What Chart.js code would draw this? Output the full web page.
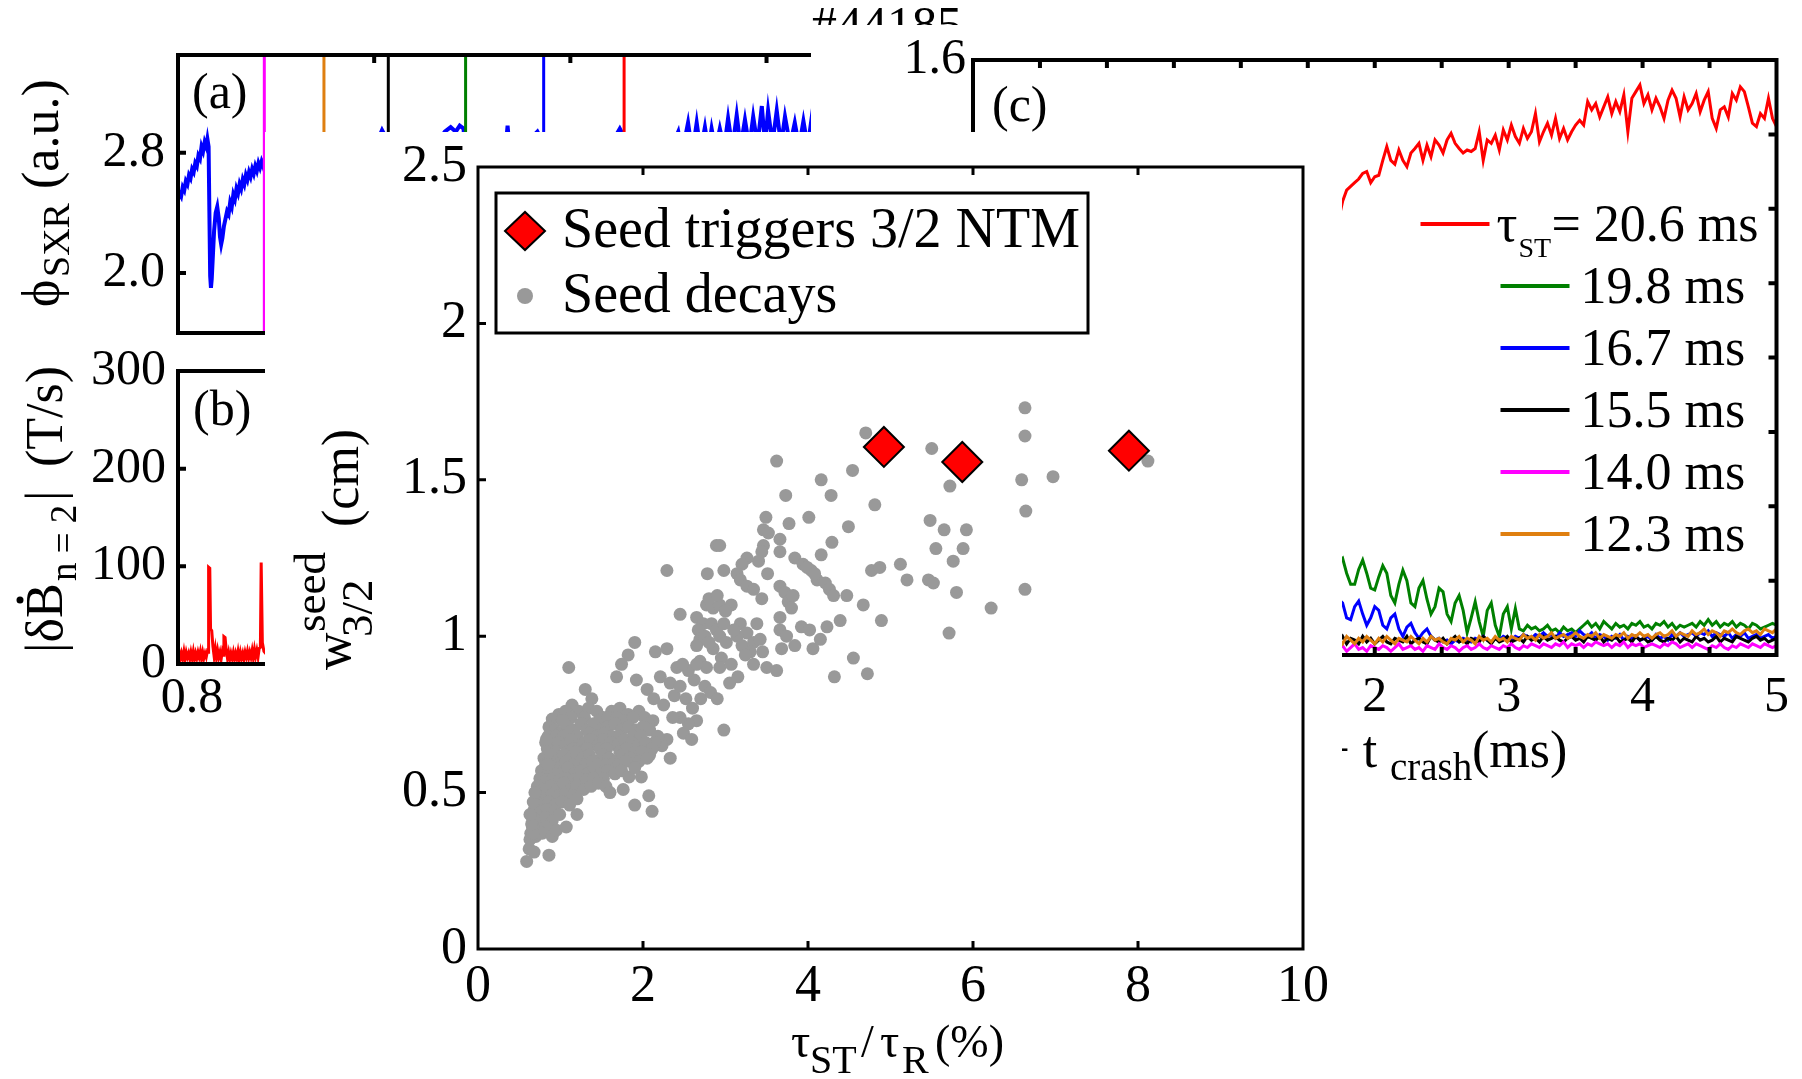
<!DOCTYPE html>
<html lang="en">
<head>
<meta charset="utf-8">
<title>#44185 seed island width vs sawtooth period</title>
<script src="https://cdn.jsdelivr.net/npm/chart.js@4.4.1/dist/chart.umd.min.js"></script>
<style>
  html, body { margin: 0; padding: 0; background: #fff; }
  #fig { position: relative; width: 1802px; height: 1079px; overflow: hidden; background: #fff; }
  #fig canvas { position: absolute; left: 0; top: 0; }
</style>
</head>
<body>
<div id="fig">
  <canvas id="sxr" width="1802" height="1079"></canvas>
  <canvas id="mirnov" width="1802" height="1079"></canvas>
  <canvas id="island" width="1802" height="1079"></canvas>
  <canvas id="seed" width="1802" height="1079"></canvas>
</div>
<script>
const SERIF = '"Liberation Serif", "Times New Roman", serif';
Chart.defaults.font.family = SERIF;
Chart.defaults.color = '#000';

// ---- (a) SXR phase, shot #44185 : [t (s), phase (a.u.)]
const sxrTrace = [
  [0.8000,2.49],[0.8004,2.53],[0.8008,2.51],[0.8012,2.57],[0.8016,2.55],[0.8020,2.61],[0.8024,2.59],[0.8028,2.65],
  [0.8032,2.63],[0.8036,2.69],[0.8040,2.67],[0.8044,2.73],[0.8048,2.71],[0.8052,2.78],[0.8056,2.76],[0.8060,2.84],
  [0.8064,2.81],[0.8068,2.87],[0.8072,2.84],[0.8075,2.89],[0.8078,2.84],[0.8080,2.40],[0.8082,1.98],[0.8084,1.90],
  [0.8086,1.96],[0.8089,2.12],[0.8092,2.28],[0.8096,2.40],[0.8100,2.44],[0.8104,2.36],[0.8107,2.24],[0.8110,2.19],
  [0.8113,2.23],[0.8117,2.31],[0.8121,2.36],[0.8125,2.41],[0.8129,2.39],[0.8133,2.47],[0.8137,2.44],[0.8141,2.52],
  [0.8145,2.49],[0.8149,2.56],[0.8153,2.53],[0.8157,2.59],[0.8161,2.56],[0.8165,2.62],[0.8169,2.59],[0.8173,2.65],
  [0.8177,2.62],[0.8181,2.67],[0.8185,2.64],[0.8189,2.69],[0.8193,2.66],[0.8197,2.71],[0.8201,2.68],[0.8205,2.73],
  [0.8209,2.70],[0.8213,2.74],[0.8217,2.71],[0.8221,2.76],[0.8226,2.73],[0.8235,2.10],[0.8260,2.22],[0.8300,2.45],
  [0.8340,2.62],[0.8368,2.72],[0.8376,2.15],[0.8420,2.45],[0.8470,2.70],[0.8505,2.86],[0.8520,2.95],[0.8528,2.91],
  [0.8538,2.12],[0.8580,2.45],[0.8630,2.70],[0.8665,2.88],[0.8680,2.94],[0.8695,2.97],[0.8708,2.94],[0.8718,2.98],
  [0.8728,2.96],[0.8736,2.18],[0.8780,2.50],[0.8820,2.74],[0.8836,2.86],[0.8840,2.98],[0.8844,2.86],[0.8880,2.88],
  [0.8905,2.91],[0.8916,2.94],[0.8924,2.90],[0.8936,2.20],[0.8980,2.50],[0.9030,2.74],[0.9080,2.87],[0.9115,2.91],
  [0.9126,2.96],[0.9132,2.93],[0.9140,2.24],[0.9180,2.55],[0.9230,2.76],[0.9262,2.86],[0.9275,2.94],[0.9285,2.80],
  [0.9300,3.00],[0.9311,2.80],[0.9322,3.00],[0.9332,2.81],[0.9343,2.97],[0.9352,2.82],[0.9360,2.96],[0.9370,2.82],
  [0.9381,2.96],[0.9392,2.83],[0.9402,3.03],[0.9413,2.83],[0.9424,3.05],[0.9434,2.84],[0.9445,3.02],[0.9456,2.84],
  [0.9466,3.04],[0.9477,2.85],[0.9488,3.11],[0.9496,2.86],[0.9504,3.08],[0.9515,2.86],[0.9526,3.08],[0.9537,2.85],
  [0.9547,3.04],[0.9560,2.85],[0.9572,3.00],[0.9583,2.84],[0.9594,3.01],[0.9605,2.84],[0.9615,3.03],[0.9626,2.84],
  [0.9640,3.00],[0.9660,2.85],[0.9680,3.01],[0.9700,2.85]
];
// sawtooth crashes marked in (a), coloured as in (c)
const crashTimes = [0.8220, 0.8372, 0.8536, 0.8733, 0.8932, 0.9137];
const crashColors = ['#ff00ff', '#df7f10', '#000000', '#008000', '#0000ff', '#ff0000'];

// ---- (b) |dB/dt| of the n=2 component : [t (s), T/s]
const mirnovTrace = [
  [0.8000,6],[0.8003,12],[0.8006,5],[0.8009,11],[0.8012,6],[0.8015,13],[0.8018,5],[0.8021,12],[0.8024,7],
  [0.8027,11],[0.8030,5],[0.8033,12],[0.8036,6],[0.8039,13],[0.8042,5],[0.8045,11],[0.8048,6],[0.8051,12],
  [0.8054,7],[0.8057,13],[0.8060,5],[0.8063,12],[0.8066,6],[0.8069,11],[0.8072,7],[0.8075,13],[0.8077,12],
  [0.8078,99],[0.8081,98],[0.8083,36],[0.8086,34],[0.8089,18],[0.8092,8],[0.8095,16],[0.8098,6],[0.8101,14],
  [0.8104,7],[0.8107,12],[0.8110,5],[0.8113,13],[0.8116,9],[0.8117,28],[0.8120,27],[0.8123,14],[0.8126,6],
  [0.8129,12],[0.8132,5],[0.8135,11],[0.8138,6],[0.8141,12],[0.8144,5],[0.8147,11],[0.8150,6],[0.8153,13],
  [0.8156,5],[0.8159,12],[0.8162,6],[0.8165,11],[0.8168,5],[0.8171,12],[0.8174,7],[0.8177,13],[0.8180,6],
  [0.8183,12],[0.8186,7],[0.8189,14],[0.8192,6],[0.8195,15],[0.8198,8],[0.8201,14],[0.8204,7],[0.8207,16],
  [0.8210,17],[0.8212,104],[0.8215,22],[0.8219,13],[0.8225,10],[0.8240,9],[0.8300,10],[0.8400,9],[0.8600,11],
  [0.8800,10],[0.9000,12],[0.9200,14],[0.9500,15],[0.9700,14]
];

// ---- (c) island width after the crash, one curve per sawtooth period
const periodLabels = ['20.6', '19.8', '16.7', '15.5', '14.0', '12.3'];
const periodColors = ['#ff0000', '#008000', '#0000ff', '#000000', '#ff00ff', '#df7f10'];
const tCrash = [
  1.70,1.73,1.76,1.79,1.82,1.85,1.88,1.91,1.94,1.97,
  2.00,2.03,2.06,2.09,2.12,2.15,2.18,2.21,2.24,2.27,
  2.30,2.33,2.36,2.39,2.42,2.45,2.48,2.51,2.54,2.57,
  2.60,2.63,2.66,2.69,2.72,2.75,2.78,2.81,2.84,2.87,
  2.90,2.93,2.96,2.99,3.02,3.05,3.08,3.11,3.14,3.17,
  3.20,3.23,3.26,3.29,3.32,3.35,3.38,3.41,3.44,3.47,
  3.50,3.53,3.56,3.59,3.62,3.65,3.68,3.71,3.74,3.77,
  3.80,3.83,3.86,3.89,3.92,3.95,3.98,4.01,4.04,4.07,
  4.10,4.13,4.16,4.19,4.22,4.25,4.28,4.31,4.34,4.37,
  4.40,4.43,4.46,4.49,4.52,4.55,4.58,4.61,4.64,4.67,
  4.70,4.73,4.76,4.79,4.82,4.85,4.88,4.91,4.94,4.97,
  5.00
];
const w20_6 = [
  1.20,1.17,1.22,1.25,1.26,1.27,1.28,1.295,1.30,1.27,
  1.286,1.29,1.33,1.367,1.33,1.32,1.358,1.33,1.313,1.35,
  1.362,1.376,1.33,1.371,1.34,1.385,1.371,1.35,1.385,1.403,
  1.376,1.362,1.35,1.358,1.354,1.362,1.407,1.33,1.385,1.376,
  1.398,1.358,1.412,1.385,1.425,1.394,1.376,1.416,1.389,1.407,
  1.456,1.38,1.407,1.43,1.398,1.443,1.389,1.416,1.385,1.407,
  1.425,1.438,1.425,1.488,1.466,1.483,1.447,1.474,1.501,1.456,
  1.488,1.461,1.506,1.407,1.497,1.515,1.533,1.483,1.506,1.466,
  1.497,1.474,1.443,1.492,1.519,1.497,1.447,1.501,1.466,1.483,
  1.51,1.461,1.492,1.515,1.443,1.416,1.466,1.474,1.447,1.51,
  1.492,1.528,1.515,1.474,1.43,1.421,1.456,1.443,1.497,1.443,
  1.421
];
const w19_8 = [
  0.22,0.25,0.26,0.22,0.19,0.19,0.23,0.255,0.22,0.18,
  0.175,0.21,0.24,0.22,0.16,0.14,0.19,0.228,0.20,0.14,
  0.13,0.18,0.20,0.15,0.11,0.13,0.18,0.17,0.11,0.09,
  0.14,0.16,0.12,0.06,0.10,0.143,0.09,0.05,0.12,0.14,
  0.08,0.05,0.11,0.13,0.07,0.125,0.07,0.065,0.08,0.07,
  0.075,0.065,0.07,0.08,0.065,0.07,0.06,0.075,0.065,0.07,
  0.06,0.07,0.08,0.09,0.075,0.085,0.07,0.09,0.08,0.07,
  0.085,0.075,0.08,0.07,0.085,0.08,0.09,0.075,0.08,0.07,
  0.085,0.08,0.09,0.075,0.085,0.07,0.08,0.075,0.08,0.085,
  0.075,0.09,0.08,0.095,0.08,0.09,0.075,0.085,0.08,0.09,
  0.075,0.085,0.08,0.07,0.085,0.08,0.07,0.075,0.08,0.085,
  0.08
];
const w16_7 = [
  0.12,0.15,0.14,0.10,0.095,0.13,0.145,0.11,0.08,0.10,
  0.13,0.12,0.08,0.07,0.10,0.11,0.07,0.05,0.075,0.085,
  0.06,0.045,0.06,0.07,0.05,0.04,0.045,0.035,0.04,0.03,
  0.04,0.035,0.045,0.04,0.035,0.045,0.04,0.05,0.04,0.035,
  0.045,0.04,0.05,0.045,0.04,0.05,0.045,0.055,0.05,0.045,
  0.055,0.05,0.06,0.05,0.055,0.045,0.06,0.05,0.055,0.06,
  0.05,0.065,0.055,0.05,0.06,0.045,0.055,0.05,0.04,0.05,
  0.045,0.055,0.04,0.05,0.045,0.05,0.04,0.045,0.05,0.04,
  0.055,0.045,0.05,0.04,0.055,0.05,0.06,0.05,0.055,0.06,
  0.05,0.06,0.055,0.065,0.05,0.06,0.055,0.05,0.06,0.045,
  0.055,0.05,0.06,0.045,0.05,0.055,0.045,0.05,0.055,0.045,
  0.05
];
const w15_5 = [
  0.04,0.035,0.05,0.03,0.045,0.04,0.03,0.05,0.035,0.045,
  0.03,0.04,0.05,0.035,0.03,0.045,0.04,0.035,0.05,0.03,
  0.04,0.045,0.035,0.03,0.05,0.04,0.035,0.045,0.03,0.04,
  0.05,0.035,0.04,0.03,0.045,0.04,0.035,0.05,0.04,0.03,
  0.045,0.035,0.04,0.05,0.035,0.04,0.045,0.035,0.05,0.04,
  0.045,0.035,0.05,0.04,0.045,0.05,0.04,0.035,0.045,0.05,
  0.04,0.045,0.035,0.05,0.045,0.04,0.05,0.035,0.045,0.04,
  0.05,0.035,0.04,0.045,0.035,0.05,0.04,0.045,0.035,0.04,
  0.05,0.04,0.035,0.045,0.04,0.05,0.035,0.045,0.04,0.035,
  0.05,0.04,0.045,0.035,0.04,0.05,0.035,0.045,0.04,0.035,
  0.05,0.045,0.04,0.035,0.045,0.05,0.04,0.045,0.035,0.04,
  0.045
];
const w14_0 = [
  0.02,0.015,0.025,0.01,0.02,0.03,0.015,0.02,0.01,0.025,
  0.02,0.015,0.025,0.02,0.01,0.02,0.03,0.015,0.02,0.025,
  0.015,0.02,0.01,0.025,0.02,0.015,0.03,0.02,0.015,0.025,
  0.02,0.01,0.02,0.025,0.015,0.02,0.03,0.02,0.015,0.025,
  0.02,0.015,0.025,0.02,0.03,0.02,0.015,0.025,0.02,0.03,
  0.025,0.02,0.03,0.025,0.02,0.03,0.025,0.035,0.02,0.03,
  0.025,0.03,0.02,0.03,0.025,0.035,0.03,0.025,0.03,0.02,
  0.03,0.025,0.035,0.02,0.03,0.025,0.03,0.02,0.025,0.03,
  0.025,0.02,0.03,0.025,0.035,0.03,0.02,0.025,0.03,0.02,
  0.03,0.025,0.02,0.015,0.025,0.02,0.03,0.02,0.015,0.025,
  0.02,0.03,0.025,0.02,0.03,0.025,0.02,0.03,0.025,0.02,
  0.025
];
const w12_3 = [
  0.035,0.045,0.03,0.05,0.04,0.03,0.045,0.035,0.05,0.04,
  0.03,0.045,0.035,0.05,0.04,0.03,0.045,0.04,0.035,0.05,
  0.04,0.03,0.045,0.035,0.05,0.04,0.045,0.035,0.03,0.045,
  0.04,0.05,0.035,0.045,0.04,0.03,0.05,0.04,0.045,0.035,
  0.05,0.04,0.045,0.035,0.05,0.045,0.04,0.055,0.045,0.05,
  0.04,0.055,0.045,0.05,0.06,0.045,0.05,0.055,0.045,0.05,
  0.06,0.05,0.045,0.055,0.05,0.06,0.045,0.055,0.05,0.045,
  0.055,0.05,0.06,0.045,0.055,0.05,0.06,0.05,0.055,0.045,
  0.055,0.06,0.05,0.055,0.065,0.05,0.06,0.055,0.05,0.065,
  0.055,0.06,0.07,0.055,0.065,0.06,0.05,0.065,0.06,0.07,
  0.06,0.055,0.065,0.07,0.06,0.065,0.055,0.07,0.065,0.06,
  0.07
];

// ---- inset: seed width vs tau_ST / tau_R (%)
const triggerTau = [4.92, 5.87, 7.89];
const triggerWidth = [1.605, 1.557, 1.593];
const seedDecays = [
  // sparse, large tau
  [6.63,1.73],[6.63,1.64],[6.59,1.50],[6.97,1.51],[6.64,1.40],[6.63,1.15],[6.22,1.09],[8.12,1.56],
  [4.70,1.65],[5.50,1.60],[5.72,1.48],[4.81,1.42],[5.48,1.37],[5.65,1.34],[5.92,1.34],[5.55,1.28],
  [5.88,1.28],[5.76,1.24],[5.46,1.18],[5.52,1.17],[5.80,1.14],[5.71,1.01],[5.12,1.23],[5.20,1.18],
  [4.77,1.21],[4.87,1.22],[4.89,1.05],[4.72,0.88],[4.67,1.10],[4.49,1.35],[4.54,1.53],[4.28,1.45],
  [4.16,1.50],[3.62,1.56],[3.73,1.45],[3.49,1.38],[3.77,1.36],[4.01,1.38],[4.29,1.30],[4.16,1.26],
  [4.55,0.93],[4.32,0.87],[4.47,1.13],[4.39,1.05],
  // upper band
  [3.84,1.25],[3.94,1.23],[4.04,1.21],[4.11,1.18],[4.21,1.17],[4.26,1.15],[4.31,1.13],[3.99,1.22],[4.08,1.20],
  [3.46,1.34],[3.52,1.33],[3.66,1.31],[3.46,1.29],[3.66,1.27],[3.44,1.27],[3.40,1.24],[3.26,1.25],[3.20,1.23],
  [3.51,1.20],[3.14,1.20],[3.18,1.18],[3.26,1.16],[3.34,1.15],[3.44,1.12],[3.66,1.16],[3.72,1.14],[3.76,1.11],
  [3.80,1.09],[3.82,1.13],[2.29,1.21],[2.78,1.20],[2.98,1.21],[2.89,1.29],[2.93,1.29],[2.45,1.07],
  [2.77,1.10],[2.85,1.09],[2.93,1.10],[3.07,1.10],[2.80,1.12],[2.90,1.13],[3.00,1.08],
  // middle band
  [2.65,1.06],[2.73,1.04],[2.67,1.02],[2.69,0.99],[2.65,0.97],[2.83,1.04],[2.89,1.02],[2.93,1.00],
  [3.01,0.98],[2.85,0.96],[2.95,0.93],[2.69,0.92],[2.77,0.90],[2.93,0.90],[3.07,0.91],[3.18,1.04],
  [3.26,1.01],[3.14,1.00],[3.20,0.97],[3.34,0.98],[3.30,0.95],[3.38,1.04],[3.42,0.99],[3.34,0.91],
  [3.50,0.90],[3.62,0.89],[3.66,1.06],[3.66,1.02],[3.74,1.00],[3.68,0.96],[3.84,0.97],[3.92,1.03],
  [4.02,1.02],[4.06,0.96],[4.15,0.99],[4.23,1.03],[2.75,1.00],[2.80,0.98],[3.10,1.02],[3.24,0.94],
  [2.98,1.04],[3.45,0.95],
  [1.90,0.98],[1.82,0.94],[1.74,0.91],[1.68,0.87],[2.15,0.95],[2.29,0.96],[2.41,0.90],[1.92,0.86],
  [2.21,0.87],[2.33,0.85],[1.30,0.83],[2.05,0.83],[1.10,0.90],[1.38,0.80],[1.14,0.78],
  [2.49,0.69],[2.59,0.67],[2.65,0.73],[2.29,0.67],[2.23,0.65],[2.33,0.61],[2.13,0.80],[2.25,0.78],
  [2.38,0.81],[2.45,0.84],[2.52,0.80],[2.60,0.77],[2.55,0.72],[2.45,0.74],[2.36,0.74],[2.70,0.80],
  [2.62,0.86],[2.75,0.84],[2.82,0.82],[2.55,0.89],[2.48,0.91],[2.65,0.91],[2.98,0.70],[2.90,0.80],
  [3.05,0.85],[3.15,0.87],
  // dense cluster, small tau
  [0.98,0.75],[1.06,0.76],[1.22,0.76],[1.34,0.77],[1.44,0.76],[1.52,0.74],[1.62,0.76],[1.72,0.77],
  [1.82,0.75],[1.95,0.76],[2.02,0.74],[2.12,0.73],
  [0.90,0.735],[1.02,0.73],[1.13,0.74],[1.29,0.74],[1.47,0.73],[1.58,0.74],[1.68,0.74],[1.78,0.73],
  [1.88,0.74],[2.06,0.72],
  [0.86,0.71],[0.93,0.70],[1.00,0.69],[1.09,0.71],[1.16,0.70],[1.25,0.72],[1.32,0.70],[1.40,0.72],
  [1.48,0.70],[1.57,0.71],[1.66,0.72],[1.74,0.70],[1.83,0.71],[1.92,0.70],[2.00,0.71],[2.08,0.70],[2.18,0.68],
  [0.85,0.68],[0.95,0.68],[1.04,0.68],[1.20,0.68],[1.35,0.69],[1.44,0.68],[1.53,0.69],[1.62,0.68],
  [1.71,0.68],[1.88,0.68],[1.97,0.68],[2.14,0.66],
  [0.82,0.66],[0.90,0.65],[0.98,0.66],[1.06,0.65],[1.13,0.67],[1.21,0.65],[1.29,0.66],[1.37,0.67],
  [1.45,0.65],[1.53,0.67],[1.61,0.66],[1.69,0.65],[1.78,0.67],[1.86,0.66],[1.94,0.65],[2.03,0.66],[2.11,0.64],
  [0.84,0.64],[0.93,0.63],[1.08,0.63],[1.16,0.64],[1.24,0.63],[1.32,0.64],[1.48,0.64],[1.56,0.64],
  [1.72,0.63],[1.80,0.64],[1.90,0.63],[1.99,0.63],[2.08,0.62],
  [0.80,0.61],[0.88,0.62],[0.96,0.60],[1.04,0.62],[1.12,0.61],[1.19,0.63],[1.27,0.61],[1.35,0.62],
  [1.43,0.60],[1.51,0.62],[1.59,0.61],[1.67,0.60],[1.75,0.62],[1.84,0.61],[1.95,0.60],[2.05,0.61],
  [0.82,0.59],[0.90,0.59],[0.99,0.58],[1.07,0.60],[1.15,0.59],[1.23,0.59],[1.31,0.59],[1.39,0.60],
  [1.47,0.59],[1.55,0.59],[1.63,0.59],[1.71,0.59],[1.79,0.60],
  [0.77,0.57],[0.85,0.56],[0.93,0.57],[1.01,0.56],[1.09,0.58],[1.17,0.56],[1.25,0.57],[1.33,0.56],
  [1.41,0.58],[1.49,0.56],[1.57,0.57],[1.66,0.56],[1.74,0.57],[1.83,0.55],
  [0.75,0.545],[0.83,0.54],[0.91,0.545],[0.99,0.54],[1.07,0.545],[1.15,0.54],[1.23,0.545],[1.31,0.54],
  [1.40,0.545],[1.52,0.545],
  [0.72,0.52],[0.80,0.51],[0.88,0.52],[0.96,0.51],[1.04,0.53],[1.12,0.51],[1.20,0.52],[1.28,0.51],
  [1.37,0.52],[1.46,0.53],[1.55,0.52],
  [0.74,0.495],[0.82,0.49],[0.90,0.495],[0.98,0.49],[1.06,0.495],[1.15,0.49],
  [0.70,0.47],[0.78,0.46],[0.86,0.47],[0.94,0.46],[1.02,0.47],[1.11,0.46],[1.20,0.48],
  [0.68,0.445],[0.76,0.44],[0.84,0.445],[0.93,0.44],
  [0.66,0.42],[0.74,0.41],[0.82,0.42],[0.90,0.41],[0.99,0.43],
  [0.66,0.39],[0.73,0.385],[0.82,0.39],
  [0.64,0.37],[0.70,0.36],[0.78,0.37],[0.90,0.36],[0.62,0.32],[0.68,0.31],
  [0.59,0.28],[0.86,0.30],[0.95,0.38],[1.07,0.39],[1.20,0.43],[1.60,0.50],[1.76,0.51],[1.90,0.46],
  [2.07,0.49],[2.11,0.44],[1.98,0.55],[1.90,0.58],[0.63,0.35],[0.67,0.37],[0.65,0.40],[0.63,0.43],
  [0.67,0.47],[0.69,0.50],[1.03,0.73],[0.83,0.67],[0.85,0.59]
];
const legendLabels = ['Seed triggers 3/2 NTM', 'Seed decays'];

// axis ticks
const tauTicks = [0, 2, 4, 6, 8, 10];
const widthTicks = [0, 0.5, 1, 1.5, 2, 2.5];
const crashAxisTicks = [-1, 0, 1, 2, 3, 4, 5];
const crashMinorTicks = [-0.5, 0, 0.5, 1, 1.5, 2, 2.5, 3, 3.5, 4, 4.5];
const islandTicks = [0, 0.4, 0.8, 1.2, 1.6];
const islandMinorTicks = [0.2, 0.4, 0.6, 0.8, 1.0, 1.2, 1.4];

// ---- helpers
const font = size => size + 'px ' + SERIF;
const fixWidth = w => scale => { scale.width = w; };
const fixHeight = h => scale => { scale.height = h; };
const useTicks = values => scale => { scale.ticks = values.map(v => ({ value: v })); };
const plain = v => String(+v.toFixed(2));
const pairs = (xs, ys) => xs.map((x, i) => ({ x, y: ys[i] }));
const toPoints = list => list.map(([x, y]) => ({ x, y }));

const hiddenGrid = { display: false, drawTicks: false };

// white backing so a panel hides what sits underneath it
function whiteBox(x0, y0, x1, y1) {
  return {
    id: 'whiteBox',
    beforeDraw(chart) {
      const ctx = chart.ctx;
      ctx.save();
      ctx.fillStyle = '#fff';
      ctx.fillRect(x0, y0, x1 - x0, y1 - y0);
      ctx.restore();
    }
  };
}

// boxed axes with inward ticks
function frame(cfg) {
  return {
    id: 'frame',
    afterDatasetsDraw(chart) {
      const { ctx, chartArea: a, scales: { x, y } } = chart;
      const len = cfg.tickLength;
      ctx.save();
      ctx.strokeStyle = '#000';
      ctx.lineWidth = cfg.lineWidth;
      ctx.beginPath();
      (cfg.top || []).forEach(v => { const p = x.getPixelForValue(v); ctx.moveTo(p, a.top); ctx.lineTo(p, a.top + len); });
      (cfg.bottom || []).forEach(v => { const p = x.getPixelForValue(v); ctx.moveTo(p, a.bottom); ctx.lineTo(p, a.bottom - len); });
      (cfg.left || []).forEach(v => { const p = y.getPixelForValue(v); ctx.moveTo(a.left, p); ctx.lineTo(a.left + len, p); });
      (cfg.right || []).forEach(v => { const p = y.getPixelForValue(v); ctx.moveTo(a.right, p); ctx.lineTo(a.right - len, p); });
      ctx.stroke();
      ctx.strokeRect(a.left, a.top, a.right - a.left, a.bottom - a.top);
      ctx.restore();
    }
  };
}

// text run along the baseline; rotated runs read bottom to top
function textRun(ctx, x, y, pieces, rotated) {
  ctx.save();
  ctx.translate(x, y);
  if (rotated) ctx.rotate(-Math.PI / 2);
  ctx.fillStyle = '#000';
  ctx.textAlign = 'left';
  ctx.textBaseline = 'alphabetic';
  for (const p of pieces) {
    if (p.dot) {
      ctx.beginPath();
      ctx.arc(p.at, p.shift, p.dot, 0, Math.PI * 2);
      ctx.fill();
      continue;
    }
    ctx.font = font(p.size);
    ctx.fillText(p.text, p.at, p.shift || 0);
  }
  ctx.restore();
}

const base = {
  responsive: false,
  animation: false,
  devicePixelRatio: 1,
  events: [],
  elements: { point: { radius: 0 }, line: { tension: 0, borderWidth: 3 } }
};

// ---- (a)
new Chart(document.getElementById('sxr'), {
  type: 'line',
  data: {
    datasets: [
      ...crashTimes.map((t, i) => ({
        data: [{ x: t, y: 1.6 }, { x: t, y: 3.45 }],
        borderColor: crashColors[i], borderWidth: 3
      })),
      { data: toPoints(sxrTrace), borderColor: '#0000ff', borderWidth: 4 }
    ]
  },
  options: {
    ...base,
    layout: { padding: { left: 0, top: 55, right: 957, bottom: 734 } },
    plugins: { legend: { display: false }, tooltip: { enabled: false } },
    scales: {
      x: {
        type: 'linear', min: 0.8, max: 0.97,
        grid: hiddenGrid, border: { display: false },
        ticks: { display: false },
        afterFit: fixHeight(12)
      },
      y: {
        min: 1.6, max: 3.45,
        grid: hiddenGrid, border: { display: false },
        afterBuildTicks: useTicks([2.0, 2.8]),
        ticks: { font: { size: 50 }, padding: 13, callback: v => v.toFixed(1) },
        afterFit: fixWidth(178)
      }
    }
  },
  plugins: [
    frame({ lineWidth: 4, tickLength: 8, top: [0.85, 0.9, 0.95], left: [2.0, 2.8] }),
    {
      id: 'sxrText',
      afterDraw(chart) {
        const { ctx, chartArea: a } = chart;
        textRun(ctx, a.left + 14, a.top + 53, [{ text: '(a)', size: 50, at: 0 }]);
        textRun(ctx, 812, 41, [{ text: '#44185', size: 50, at: 0 }]);
        textRun(ctx, 58, 307, [
          { text: 'ϕ', size: 52, at: 0 },
          { text: 'SXR', size: 38, at: 30, shift: 11 },
          { text: '(a.u.)', size: 52, at: 118 }
        ], true);
      }
    }
  ]
});

// ---- (b)
new Chart(document.getElementById('mirnov'), {
  type: 'line',
  data: {
    datasets: [{ data: toPoints(mirnovTrace), borderColor: '#ff0000', borderWidth: 3 }]
  },
  options: {
    ...base,
    layout: { padding: { left: 0, top: 371, right: 957, bottom: 339 } },
    plugins: { legend: { display: false }, tooltip: { enabled: false } },
    scales: {
      x: {
        type: 'linear', min: 0.8, max: 0.97,
        grid: hiddenGrid, border: { display: false },
        afterBuildTicks: useTicks([0.8, 0.85, 0.9, 0.95]),
        ticks: { font: { size: 50 }, padding: 5, labelOffset: 14, maxRotation: 0, autoSkip: false, callback: plain },
        afterFit: fixHeight(76)
      },
      y: {
        min: 0, max: 300,
        grid: hiddenGrid, border: { display: false },
        afterBuildTicks: useTicks([0, 100, 200, 300]),
        ticks: { font: { size: 50 }, padding: 12, callback: plain },
        afterFit: fixWidth(178)
      }
    }
  },
  plugins: [
    frame({ lineWidth: 4, tickLength: 8, left: [100, 200], bottom: [0.85, 0.9, 0.95] }),
    {
      id: 'mirnovText',
      afterDraw(chart) {
        const { ctx, chartArea: a } = chart;
        textRun(ctx, a.left + 15, a.top + 54, [{ text: '(b)', size: 50, at: 0 }]);
        textRun(ctx, 62, 653, [
          { text: '|δB', size: 52, at: 0 },
          { dot: 3.5, at: 53, shift: -42 },
          { text: 'n = 2', size: 37, at: 72, shift: 14 },
          { text: '|', size: 52, at: 152 },
          { text: '(T/s)', size: 52, at: 186 }
        ], true);
      }
    }
  ]
});

// ---- (c)
const islandSeries = [
  { y: w12_3, color: '#df7f10' },
  { y: w14_0, color: '#ff00ff' },
  { y: w15_5, color: '#000000' },
  { y: w16_7, color: '#0000ff' },
  { y: w19_8, color: '#008000' },
  { y: w20_6, color: '#ff0000' }
];
new Chart(document.getElementById('island'), {
  type: 'line',
  data: {
    datasets: islandSeries.map(s => ({ data: pairs(tCrash, s.y), borderColor: s.color, borderWidth: 3 }))
  },
  options: {
    ...base,
    layout: { padding: { left: 811, top: 60, right: 17, bottom: 334 } },
    plugins: { legend: { display: false }, tooltip: { enabled: false } },
    scales: {
      x: {
        type: 'linear', min: -1, max: 5,
        grid: hiddenGrid, border: { display: false },
        afterBuildTicks: useTicks(crashAxisTicks),
        ticks: { font: { size: 50 }, padding: 13, maxRotation: 0, autoSkip: false, callback: plain },
        afterFit: fixHeight(90)
      },
      y: {
        min: 0, max: 1.6,
        grid: hiddenGrid, border: { display: false },
        afterBuildTicks: useTicks(islandTicks),
        ticks: { font: { size: 50 }, padding: 7, callback: plain },
        afterFit: fixWidth(162)
      }
    }
  },
  plugins: [
    whiteBox(811, 25, 1802, 1079),
    frame({ lineWidth: 4, tickLength: 8, top: crashMinorTicks, bottom: crashMinorTicks,
            left: islandMinorTicks, right: islandMinorTicks }),
    {
      id: 'islandText',
      afterDraw(chart) {
        const { ctx, chartArea: a } = chart;
        textRun(ctx, a.left + 19, a.top + 61, [{ text: '(c)', size: 50, at: 0 }]);
        // x title, t - t_crash
        textRun(ctx, a.left + 320, a.bottom + 112, [
          { text: 't − t', size: 52, at: 0 },
          { text: 'crash', size: 39, at: 97, shift: 13 },
          { text: '(ms)', size: 52, at: 179 }
        ]);
        // legend
        ctx.save();
        periodLabels.forEach((p, i) => {
          const yc = a.top + 164 + i * 62;
          const lx = i === 0 ? a.right - 356 : a.right - 276;
          ctx.strokeStyle = periodColors[i];
          ctx.lineWidth = 4;
          ctx.beginPath();
          ctx.moveTo(lx, yc);
          ctx.lineTo(lx + 69, yc);
          ctx.stroke();
          if (i === 0) {
            textRun(ctx, a.right - 280, yc + 17, [
              { text: 'τ', size: 52, at: 0 },
              { text: 'ST', size: 28, at: 22, shift: 16 },
              { text: '= ' + p + ' ms', size: 52, at: 55 }
            ]);
          } else {
            textRun(ctx, a.right - 196, yc + 17, [{ text: p + ' ms', size: 52, at: 0 }]);
          }
        });
        ctx.restore();
      }
    }
  ]
});

// ---- inset scatter
new Chart(document.getElementById('seed'), {
  type: 'scatter',
  data: {
    datasets: [
      {
        label: legendLabels[0],
        data: pairs(triggerTau, triggerWidth),
        pointStyle: 'rectRot', pointRadius: 20,
        backgroundColor: '#ff0000', borderColor: '#000', borderWidth: 2
      },
      {
        label: legendLabels[1],
        data: toPoints(seedDecays),
        pointStyle: 'circle', pointRadius: 6.5,
        backgroundColor: '#999999', borderWidth: 0
      }
    ]
  },
  options: {
    ...base,
    layout: { padding: { left: 265, top: 167, right: 499, bottom: 0 } },
    plugins: { legend: { display: false }, tooltip: { enabled: false } },
    scales: {
      x: {
        type: 'linear', min: 0, max: 10,
        grid: hiddenGrid, border: { display: false },
        afterBuildTicks: useTicks(tauTicks),
        ticks: { font: { size: 52 }, padding: 7, maxRotation: 0, autoSkip: false, callback: plain },
        afterFit: fixHeight(130)
      },
      y: {
        min: 0, max: 2.5,
        grid: hiddenGrid, border: { display: false },
        afterBuildTicks: useTicks(widthTicks),
        ticks: { font: { size: 52 }, padding: 11, callback: plain },
        afterFit: fixWidth(213)
      }
    }
  },
  plugins: [
    whiteBox(265, 132, 1342, 1079),
    frame({ lineWidth: 3, tickLength: 8, top: [2, 4, 6, 8], bottom: [2, 4, 6, 8], left: [0.5, 1, 1.5, 2] }),
    {
      id: 'seedText',
      afterDraw(chart) {
        const { ctx, chartArea: a } = chart;
        // legend box
        const bx = a.left + 18, by = a.top + 26;
        ctx.save();
        ctx.fillStyle = '#fff';
        ctx.fillRect(bx, by, 592, 140);
        ctx.strokeStyle = '#000';
        ctx.lineWidth = 3;
        ctx.strokeRect(bx, by, 592, 140);
        const mx = a.left + 47, my1 = a.top + 64, my2 = a.top + 129;
        ctx.beginPath();
        ctx.moveTo(mx - 20, my1);
        ctx.lineTo(mx, my1 - 19);
        ctx.lineTo(mx + 20, my1);
        ctx.lineTo(mx, my1 + 19);
        ctx.closePath();
        ctx.fillStyle = '#ff0000';
        ctx.fill();
        ctx.lineWidth = 2;
        ctx.stroke();
        ctx.beginPath();
        ctx.arc(mx, my2, 8, 0, Math.PI * 2);
        ctx.fillStyle = '#999999';
        ctx.fill();
        ctx.restore();
        textRun(ctx, a.left + 84, a.top + 80, [{ text: legendLabels[0], size: 56, at: 0 }]);
        textRun(ctx, a.left + 84, a.top + 145, [{ text: legendLabels[1], size: 56, at: 0 }]);
        // axis titles
        textRun(ctx, a.left + 313, a.bottom + 108, [
          { text: 'τ', size: 48, at: 0 },
          { text: 'ST', size: 40, at: 19, shift: 16 },
          { text: '/', size: 46, at: 70 },
          { text: 'τ', size: 48, at: 89 },
          { text: 'R', size: 40, at: 111, shift: 16 },
          { text: '(%)', size: 46, at: 144 }
        ]);
        textRun(ctx, a.left - 128, a.top + 503, [
          { text: 'w', size: 52, at: 0 },
          { text: 'seed', size: 45, at: 38, shift: -25 },
          { text: '3/2', size: 45, at: 33, shift: 22 },
          { text: '(cm)', size: 52, at: 143, shift: 8 }
        ], true);
      }
    }
  ]
});
</script>
</body>
</html>
